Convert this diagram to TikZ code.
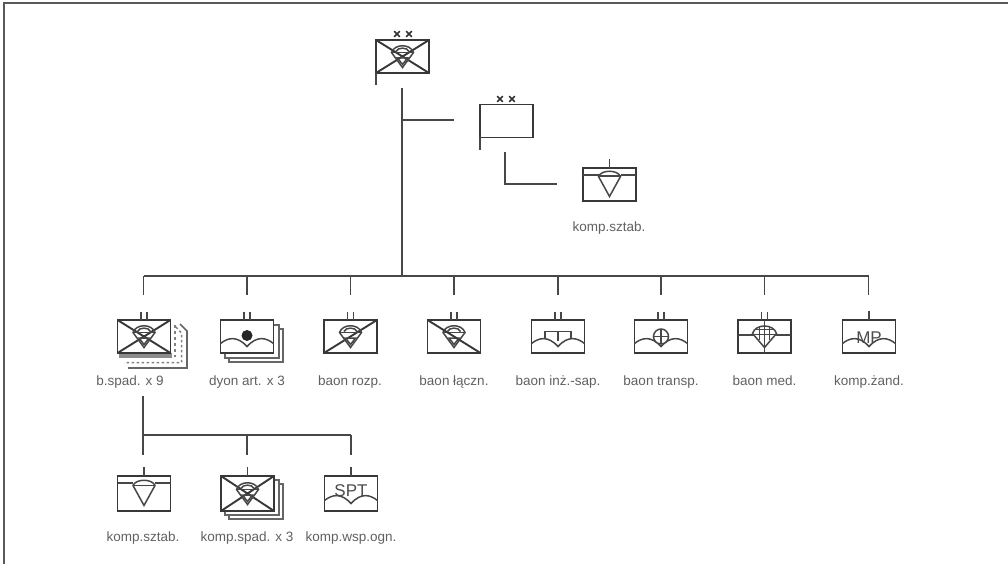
\documentclass[tikz,border=0pt]{standalone}
\usepackage{fontspec}
\setmainfont{Liberation Sans}
\tikzset{
  x=1pt,y=-1pt,
  ink/.style={draw=black!78,line width=1.9pt},
  fine/.style={draw=black!72,line width=1.5pt},
  conn/.style={draw=black!72,line width=1.9pt},
  frameline/.style={draw=black!65,line width=2pt},
  unit/.style={ink,fill=white,rectangle,minimum width=53pt,minimum height=33pt,inner sep=0pt,outer sep=0pt},
  lab/.style={text=black!62,font=\fontsize{13.5}{15}\selectfont,inner sep=0pt,anchor=base},
  inside/.style={text=black!70,font=\fontsize{17}{18}\selectfont,inner sep=0pt},
  layer/.style={draw=black!60,line width=1.7pt,fill=white}
}
\newcommand\chutesym{%
  \draw[fine] (-11,-4) .. controls (-8,-13) and (8,-13) .. (11,-4) -- (0,11) -- cycle;
  \draw[fine] (-11,-4) -- (11,-4);
  \draw[fine] (-6.5,-5) .. controls (-5,-9.5) and (5,-9.5) .. (6.5,-5);
  \draw[fine] (-5,1.5) -- (5,1.5) -- (0,8) -- cycle;
}
\newcommand\sztabsym{%
  \fill[white] (-11,-13.5) rectangle (11,-9.5);
  \draw[fine] (-11,-8) .. controls (-8,-15) and (8,-15) .. (11,-8) -- (0,12) -- cycle;
  \draw[fine] (-11,-8) -- (11,-8);
}
\newcommand\stafftwo[1]{\draw[fine] ([xshift=-3pt]#1.north) -- ++(0,-8);\draw[fine] ([xshift=3pt]#1.north) -- ++(0,-8);}
\newcommand\staffone[1]{\draw[fine] (#1.north) -- ++(0,-9);}
\newcommand\wavesym{\draw[fine] (-26.5,7) .. controls (-19,1) and (-10,-1) .. (0,10) .. controls (10,-1) and (19,1) .. (26.5,7);}
\newcommand\xx[2]{\draw[line width=1.6pt,draw=black!80] (#1-2.8,#2-2.8) -- (#1+2.8,#2+2.8) (#1-2.8,#2+2.8) -- (#1+2.8,#2-2.8);}
\begin{document}
\begin{tikzpicture}
\useasboundingbox (0,0) rectangle (1008,564);
\fill[white] (0,0) rectangle (1008,564);
\draw[frameline] (1008,3.5) -- (3.5,3.5) -- (3.5,564);

% top command
\node[unit] (top) at (402.5,56.5) {};
\draw[ink] (top.north west) -- (top.south east) (top.south west) -- (top.north east);
\begin{scope}[shift={(top.center)}]\chutesym\end{scope}
\draw[fine] (top.south west) -- ++(0,12);
\xx{397}{34}\xx{409}{34}

% second command
\node[unit] (hq) at (506.5,121) {};
\draw[fine] (hq.south west) -- ++(0,13);
\xx{500}{99}\xx{512}{99}

% staff company (top)
\node[unit] (sz) at (609.5,184.5) {};
\staffone{sz}
\draw[fine] ([yshift=-7pt]sz.north west) -- ([yshift=-7pt]sz.north east);
\begin{scope}[shift={(sz.center)}]\sztabsym\end{scope}
\node[lab] (szl) at (609,231) {komp.sztab.};

% connectors, upper part
\coordinate (trunkT) at (402,88);
\coordinate (busM) at (402,276);
\coordinate (hqIn) at (454,120);
\coordinate (subT) at (505,152);
\coordinate (subC) at (505,184);
\coordinate (subR) at (557,184);
\draw[conn] (trunkT) -- (busM);
\draw[conn] (hqIn) -- (hqIn -| trunkT);
\draw[conn] (subT) -- (subC) -- (subR);

% row 1
\foreach \nm/\cx in {u1/143.5,u2/247,u3/350.5,u4/454,u5/558,u6/661,u7/764.5,u8/868.5}{
  \coordinate (\nm-d) at (\cx,295);
}
\coordinate (busL) at (143,276);
\draw[conn] (u1-d |- busL) -- (u8-d |- busL);
\foreach \nm in {u1,u2,u3,u4,u5,u6,u7,u8}{
  \draw[conn] (\nm-d) -- (\nm-d |- busL);
}

% b.spad. x 9
\draw[draw=black!60,line width=1.6pt] (180,324) -- (187,331) -- (187,368) -- (128,368);
\draw[draw=black!50,line width=1.5pt,dash pattern=on 2.5pt off 2.5pt] (176,327) -- (181.5,333) -- (181.5,362.5) -- (124,362.5);
\fill[black!45] (119,353) rectangle (172,358);
\draw[draw=black!50,line width=1.5pt,dash pattern=on 3pt off 3pt] (175,325) -- (175,357);
\node[unit] (u1) at (144,336.5) {};
\draw[ink] (u1.north west) -- (u1.south east) (u1.south west) -- (u1.north east);
\stafftwo{u1}
\begin{scope}[shift={(u1.center)}]\chutesym\end{scope}
\node[lab] (u1l) at (130,385) {b.spad. x 9};

% dyon art. x 3
\draw[layer] (229,329) rectangle (283,362);
\draw[layer] (225,325) rectangle (279,358);
\node[unit] (u2) at (247,336.5) {};
\stafftwo{u2}
\begin{scope}[shift={(u2.center)}]
  \wavesym
  \fill[black!85] (0,-1) circle (5.5);
\end{scope}
\node[lab] (u2l) at (247,385) {dyon art. x 3};

% baon rozp.
\node[unit] (u3) at (350.5,336.5) {};
\draw[ink] (u3.south west) -- (u3.north east);
\stafftwo{u3}
\begin{scope}[shift={(u3.center)}]\chutesym\end{scope}
\node[lab] (u3l) at (350,385) {baon rozp.};

% baon laczn.
\node[unit] (u4) at (454,336.5) {};
\stafftwo{u4}
\begin{scope}[shift={(u4.center)}]\chutesym\end{scope}
\draw[ink] (u4.north west) -- (u4.south east);
\node[lab] (u4l) at (454,385) {baon łączn.};

% baon inz.-sap.
\node[unit] (u5) at (558,336.5) {};
\stafftwo{u5}
\begin{scope}[shift={(u5.center)}]
  \wavesym
  \draw[fine] (-13,2) -- (-13,-5) -- (13,-5) -- (13,2);
  \draw[fine] (0,-5) -- (0,4);
\end{scope}
\node[lab] (u5l) at (558,385) {baon inż.-sap.};

% baon transp.
\node[unit] (u6) at (661,336.5) {};
\stafftwo{u6}
\begin{scope}[shift={(u6.center)}]
  \wavesym
  \draw[fine,fill=white] (0,0) circle (7.5);
  \draw[fine] (-7.5,0) -- (7.5,0) (0,-7.5) -- (0,7.5);
\end{scope}
\node[lab] (u6l) at (661,385) {baon transp.};

% baon med.
\node[unit] (u7) at (764.5,336.5) {};
\stafftwo{u7}
\draw[fine] ([yshift=-15pt]u7.north west) -- ([yshift=-15pt]u7.north east);
\begin{scope}[shift={(u7.center)}]
  \draw[fine,fill=white] (-12,-3) .. controls (-9,-13) and (9,-13) .. (12,-3) -- (0,11) -- cycle;
  \draw[fine] (-9,-7) -- (9,-7) (-11,-2) -- (11,-2);
  \draw[fine] (-5,-10) -- (-5,3) (5,-10) -- (5,3);
  \draw[fine] (0,-17) -- (0,16.5);
\end{scope}
\node[lab] (u7l) at (764.5,385) {baon med.};

% komp. zand.
\node[unit] (u8) at (869,336.5) {};
\staffone{u8}
\begin{scope}[shift={(u8.center)}]
  \node[inside] (mp) at (0,1.5) {MP};
  \wavesym
\end{scope}
\node[lab] (u8l) at (869,385) {komp.żand.};

% lower branch
\coordinate (lowT) at (143,396);
\coordinate (lowC) at (143,435);
\coordinate (lowR) at (351,435);
\coordinate (v2-d) at (247,455);
\coordinate (v1-d) at (143,455);
\coordinate (v3-d) at (351,455);
\draw[conn] (lowT) -- (lowC) -- (lowR);
\draw[conn] (lowC) -- (v1-d);
\draw[conn] (v2-d) -- (v2-d |- lowC);
\draw[conn] (lowR) -- (v3-d);

% komp.sztab.
\node[unit,minimum height=35pt] (v1) at (144,493.5) {};
\staffone{v1}
\draw[fine] ([yshift=-7pt]v1.north west) -- ([yshift=-7pt]v1.north east);
\begin{scope}[shift={(v1.center)}]\sztabsym\end{scope}
\node[lab] (v1l) at (143,541) {komp.sztab.};

% komp.spad. x 3
\draw[layer] (229,484) rectangle (283,519);
\draw[layer] (225,480) rectangle (279,515);
\node[unit,minimum height=35pt] (v2) at (247.5,493.5) {};
\staffone{v2}
\draw[ink] (v2.north west) -- (v2.south east) (v2.south west) -- (v2.north east);
\begin{scope}[shift={(v2.center)}]\chutesym\end{scope}
\node[lab] (v2l) at (247,541) {komp.spad. x 3};

% komp.wsp.ogn.
\node[unit,minimum height=35pt] (v3) at (351,493.5) {};
\staffone{v3}
\begin{scope}[shift={(v3.center)}]
  \node[inside] (spt) at (0,-3) {SPT};
  \wavesym
\end{scope}
\node[lab] (v3l) at (351,541) {komp.wsp.ogn.};
\end{tikzpicture}
\end{document}
